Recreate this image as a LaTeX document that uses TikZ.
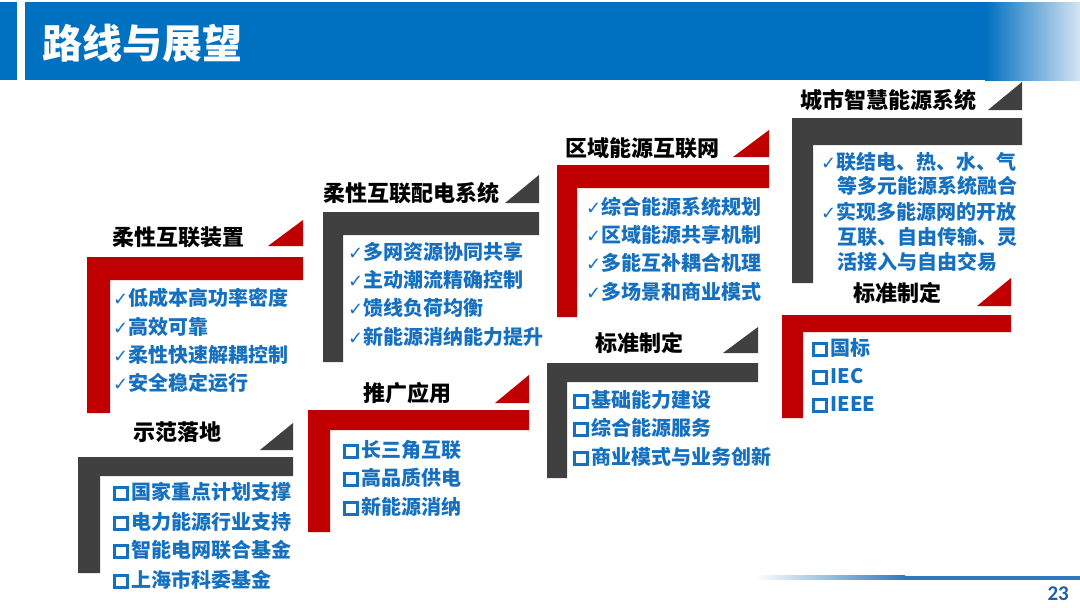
\documentclass[tikz,border=0pt]{standalone}
\usepackage{fontspec}
\setmainfont{Noto Sans CJK SC}
\newfontfamily\djv{DejaVu Sans}
\newfontfamily\carl{Carlito}
\definecolor{hdr}{HTML}{0070C0}
\definecolor{hdrlight}{HTML}{D6E4F2}
\definecolor{barred}{HTML}{C00000}
\definecolor{bargray}{HTML}{404040}
\definecolor{itemblue}{HTML}{1670C0}
\definecolor{lineblue}{HTML}{2E78C0}
\definecolor{pgblue}{HTML}{1F5FA8}
\newcommand{\chk}{{\djv\fontsize{18}{18}\selectfont\mdseries ✓}}
\newcommand{\sqb}{\raisebox{1.5pt}{\setlength{\fboxrule}{3pt}\setlength{\fboxsep}{0pt}\fbox{\rule{0pt}{9.5pt}\hspace{9.5pt}}}\hspace{3pt}}
\newcommand{\lshape}[7]{\fill[#1] (#2,#3) -- (#4,#3) -- (#4,#5) -- (#6,#5) -- (#6,#7) -- (#2,#7) -- cycle;}
\newcommand{\cornertri}[5]{\fill[#1] (#2,#3) -- (#4,#3) -- (#4,#5) -- cycle;}
\begin{document}
\begin{tikzpicture}[x=1pt,y=-1pt,
  ttl/.style={anchor=west,inner sep=0,font=\fontsize{22}{22}\selectfont\bfseries,text=black},
  itm/.style={anchor=west,inner sep=0,font=\fontsize{20}{20}\selectfont\bfseries,text=itemblue}]
\useasboundingbox (0,0) rectangle (1080,608);
\fill[white] (0,0) rectangle (1080,608);
% header
\fill[hdr] (0,2) rectangle (17,80);
\fill[hdr] (25,2) rectangle (986,80);
\shade[left color=hdr,right color=hdrlight] (985,2) rectangle (1080,80);
\node[anchor=west,inner sep=0,text=white,font=\fontsize{40}{40}\selectfont\bfseries] (title) at (42,43) {路线与展望};
% footer
\shade[left color=white,right color=lineblue] (755,575.5) rectangle (905,579.5);
\fill[lineblue] (904,575.5) rectangle (1080,579.5);
\node[anchor=east,inner sep=0,text=pgblue,font=\carl\fontsize{21}{21}\selectfont\bfseries] (pgno) at (1069,594) {23};

% B1 柔性互联装置 (red)
\lshape{barred}{87}{257}{303}{280}{110}{413}
\cornertri{barred}{268}{246}{303}{220}
\node[ttl] (t1) at (112,237) {柔性互联装置};
\node[itm] (i11) at (113,298) {\chk 低成本高功率密度};
\node[itm] (i12) at (113,327) {\chk 高效可靠};
\node[itm] (i13) at (113,355) {\chk 柔性快速解耦控制};
\node[itm] (i14) at (113,383) {\chk 安全稳定运行};

% B2 柔性互联配电系统 (gray)
\lshape{bargray}{323}{212}{539}{235}{343}{362}
\cornertri{bargray}{505}{203}{539}{175}
\node[ttl] (t2) at (323,193) {柔性互联配电系统};
\node[itm] (i21) at (348,252) {\chk 多网资源协同共享};
\node[itm] (i22) at (348,280) {\chk 主动潮流精确控制};
\node[itm] (i23) at (348,308) {\chk 馈线负荷均衡};
\node[itm] (i24) at (348,337) {\chk 新能源消纳能力提升};

% B3 区域能源互联网 (red)
\lshape{barred}{557}{165}{769}{188}{577}{317}
\cornertri{barred}{733}{157}{769}{130}
\node[ttl] (t3) at (565,148) {区域能源互联网};
\node[itm] (i31) at (586,207) {\chk 综合能源系统规划};
\node[itm] (i32) at (586,235) {\chk 区域能源共享机制};
\node[itm] (i33) at (586,263) {\chk 多能互补耦合机理};
\node[itm] (i34) at (586,292) {\chk 多场景和商业模式};

% B4 城市智慧能源系统 (gray)
\lshape{bargray}{792}{118}{1022}{145}{813}{283}
\cornertri{bargray}{988}{110}{1022}{82}
\node[ttl] (t4) at (800,100) {城市智慧能源系统};
\node[itm] (i41) at (821,162) {\chk 联结电、热、水、气};
\node[itm] (i42) at (837,186) {等多元能源系统融合};
\node[itm] (i43) at (821,212) {\chk 实现多能源网的开放};
\node[itm] (i44) at (837,237) {互联、自由传输、灵};
\node[itm] (i45) at (837,262) {活接入与自由交易};

% B5 示范落地 (gray)
\lshape{bargray}{78}{457}{293}{476}{100}{573}
\cornertri{bargray}{260}{450}{293}{423}
\node[ttl] (t5) at (133,432) {示范落地};
\node[itm] (i51) at (113,492) {\sqb 国家重点计划支撑};
\node[itm] (i52) at (113,522) {\sqb 电力能源行业支持};
\node[itm] (i53) at (113,550) {\sqb 智能电网联合基金};
\node[itm] (i54) at (113,580) {\sqb 上海市科委基金};

% B6 推广应用 (red)
\lshape{barred}{308}{410}{529}{430}{330}{532}
\cornertri{barred}{495}{403}{529}{375}
\node[ttl] (t6) at (363,393) {推广应用};
\node[itm] (i61) at (343,450) {\sqb 长三角互联};
\node[itm] (i62) at (343,478) {\sqb 高品质供电};
\node[itm] (i63) at (343,507) {\sqb 新能源消纳};

% B7 标准制定 (gray)
\lshape{bargray}{547}{363}{758}{382}{567}{478}
\cornertri{bargray}{723}{353}{758}{327}
\node[ttl] (t7) at (595,343) {标准制定};
\node[itm] (i71) at (573,400) {\sqb 基础能力建设};
\node[itm] (i72) at (573,428) {\sqb 综合能源服务};
\node[itm] (i73) at (573,457) {\sqb 商业模式与业务创新};

% B8 标准制定 (red)
\lshape{barred}{782}{315}{1011}{332}{803}{418}
\cornertri{barred}{977}{306}{1011}{278}
\node[ttl] (t8) at (853,293) {标准制定};
\node[itm] (i81) at (812,348) {\sqb 国标};
\node[itm] (i82) at (812,377) {\sqb IEC};
\node[itm] (i83) at (812,405) {\sqb IEEE};
\end{tikzpicture}
\end{document}
